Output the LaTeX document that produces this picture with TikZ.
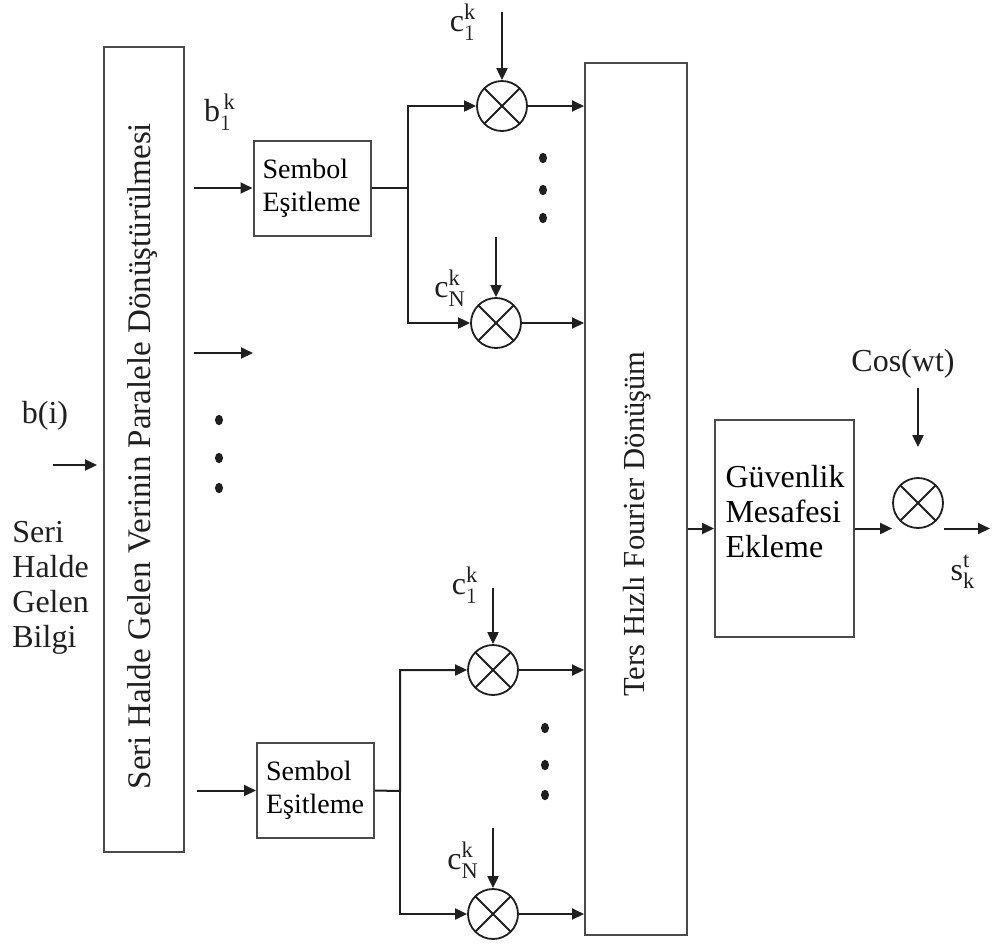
\documentclass[tikz,border=0pt]{standalone}
\usepackage{fontspec}
\setmainfont{Liberation Serif}
\usetikzlibrary{arrows.meta, positioning}
\definecolor{ink}{HTML}{1F1F1F}
\definecolor{frame}{HTML}{4A4A4A}

\begin{document}
\begin{tikzpicture}[x=0.5pt, y=0.5pt, >={Triangle[length=6pt, width=5.5pt]},
    font=\fontsize{16}{17.5}\selectfont,
    box/.style={draw=frame, line width=1pt, inner sep=0pt},
    sembol/.style={box, font=\fontsize{14}{16.5}\selectfont, text width=49.5pt, inner xsep=4.5pt,
      minimum height=47.5pt, align=left},
    mix/.style={draw=ink, line width=0.9pt, circle, minimum size=25pt, inner sep=0pt,
      path picture={\draw[ink, line width=0.9pt]
        (path picture bounding box.north west) -- (path picture bounding box.south east)
        (path picture bounding box.south west) -- (path picture bounding box.north east);}},
    wire/.style={draw=ink, line width=1pt},
    lbl/.style={inner sep=0pt, text=ink}]

  \useasboundingbox (0,0) rectangle (992,-950);

  \node[box, minimum width=40pt, minimum height=402.5pt] (sp) at (144,-449) {};
  \node[lbl, rotate=90, font=\fontsize{16.5}{18}\selectfont] (sptxt) at (143,-456)
    {Seri Halde Gelen Verinin Paralele Dönüştürülmesi};

  \node[sembol] (sb1) at (312,-188) {Sembol\\Eşitleme};
  \node[sembol] (sb2) at (315.5,-790.5) {Sembol\\Eşitleme};

  \node[box, minimum width=51pt, minimum height=436pt] (fft) at (636,-499) {};
  \node[lbl, rotate=90, font=\fontsize{15.3}{17}\selectfont] (ffttxt) at (637,-524)
    {Ters Hızlı Fourier Dönüşüm};

  \node[box, text width=59pt, inner xsep=5.25pt, minimum height=108.5pt, align=left] (gbox)
    at (784.5,-528.5) {Güvenlik\\Mesafesi\\Ekleme\\\mbox{}};

  \node[mix] (m1) at (502,-106) {};
  \node[mix] (m2) at (496,-323) {};
  \node[mix] (m3) at (493,-670) {};
  \node[mix] (m4) at (493,-914) {};
  \node[mix] (m5) at (918,-503) {};

  \node[lbl] (bi) at (45,-416) {b(i)};
  \node[lbl, anchor=north west, align=left] (seri) at (12,-521) {Seri\\Halde\\Gelen\\Bilgi};
  \node[lbl] (b1k) at (220,-112) {$\mathrm{b}^{\,\mathrm{k}}_{1}$};
  \node[lbl] (c1top) at (463,-22) {$\mathrm{c}^{\mathrm{k}}_{1}$};
  \node[lbl] (cNtop) at (450,-288) {$\mathrm{c}^{\mathrm{k}}_{\mathrm{N}}$};
  \node[lbl] (c1bot) at (465,-585) {$\mathrm{c}^{\mathrm{k}}_{1}$};
  \node[lbl] (cNbot) at (463,-860) {$\mathrm{c}^{\mathrm{k}}_{\mathrm{N}}$};
  \node[lbl] (cos) at (903,-364) {Cos(wt)};
  \node[lbl] (skt) at (963,-572) {$\mathrm{s}^{\mathrm{t}}_{\mathrm{k}}$};

  \coordinate (bin) at (53,-465);
  \coordinate (mid) at (253,-353);
  \coordinate (br1) at (408,-188);
  \coordinate (br2) at (400,-791);
  \coordinate (t1) at (502,-12);
  \coordinate (t2) at (496,-237);
  \coordinate (t3) at (493,-588);
  \coordinate (t4) at (493,-828);
  \coordinate (t5) at (918,-388);
  \coordinate (sout) at (990,-528.5);

  \draw[wire, ->, shorten >=3pt] (bin) -- (bin -| sp.west);
  \draw[wire, ->, shorten <=4.5pt] (sp.east |- sb1.west) -- (sb1.west);
  \draw[wire, ->, shorten <=4.5pt] (sp.east |- mid) -- (mid);
  \draw[wire, ->, shorten <=6pt] (sp.east |- sb2.west) -- (sb2.west);

  \draw[wire, ->] (sb1.east) -- (br1) |- (m1.west);
  \draw[wire, ->] (br1) |- (m2.west);
  \draw[wire, ->] (sb2.east) -- (br2) |- (m3.west);
  \draw[wire, ->] (br2) |- (m4.west);

  \draw[wire, ->] (t1) -- (m1.north);
  \draw[wire, ->] (t2) -- (m2.north);
  \draw[wire, ->] (t3) -- (m3.north);
  \draw[wire, ->] (t4) -- (m4.north);
  \draw[wire, ->, shorten >=15pt] (t5) -- (m5.north);

  \draw[wire, ->] (m1.east) -- (m1.east -| fft.west);
  \draw[wire, ->] (m2.east) -- (m2.east -| fft.west);
  \draw[wire, ->] (m3.east) -- (m3.east -| fft.west);
  \draw[wire, ->] (m4.east) -- (m4.east -| fft.west);

  \draw[wire, ->] (fft.east |- gbox.west) -- (gbox.west);
  \draw[wire, ->] (gbox.east) -- (gbox.east -| m5.west);
  \draw[wire, ->] (m5.east |- gbox.east) -- (sout);

  \foreach \y in {158,190,218} \fill[ink] (543,-\y) ellipse (2pt and 2.6pt);
  \foreach \y in {420,458,488} \fill[ink] (219,-\y) ellipse (2pt and 2.6pt);
  \foreach \y in {728,765,795} \fill[ink] (545,-\y) ellipse (2pt and 2.6pt);
\end{tikzpicture}
\end{document}
